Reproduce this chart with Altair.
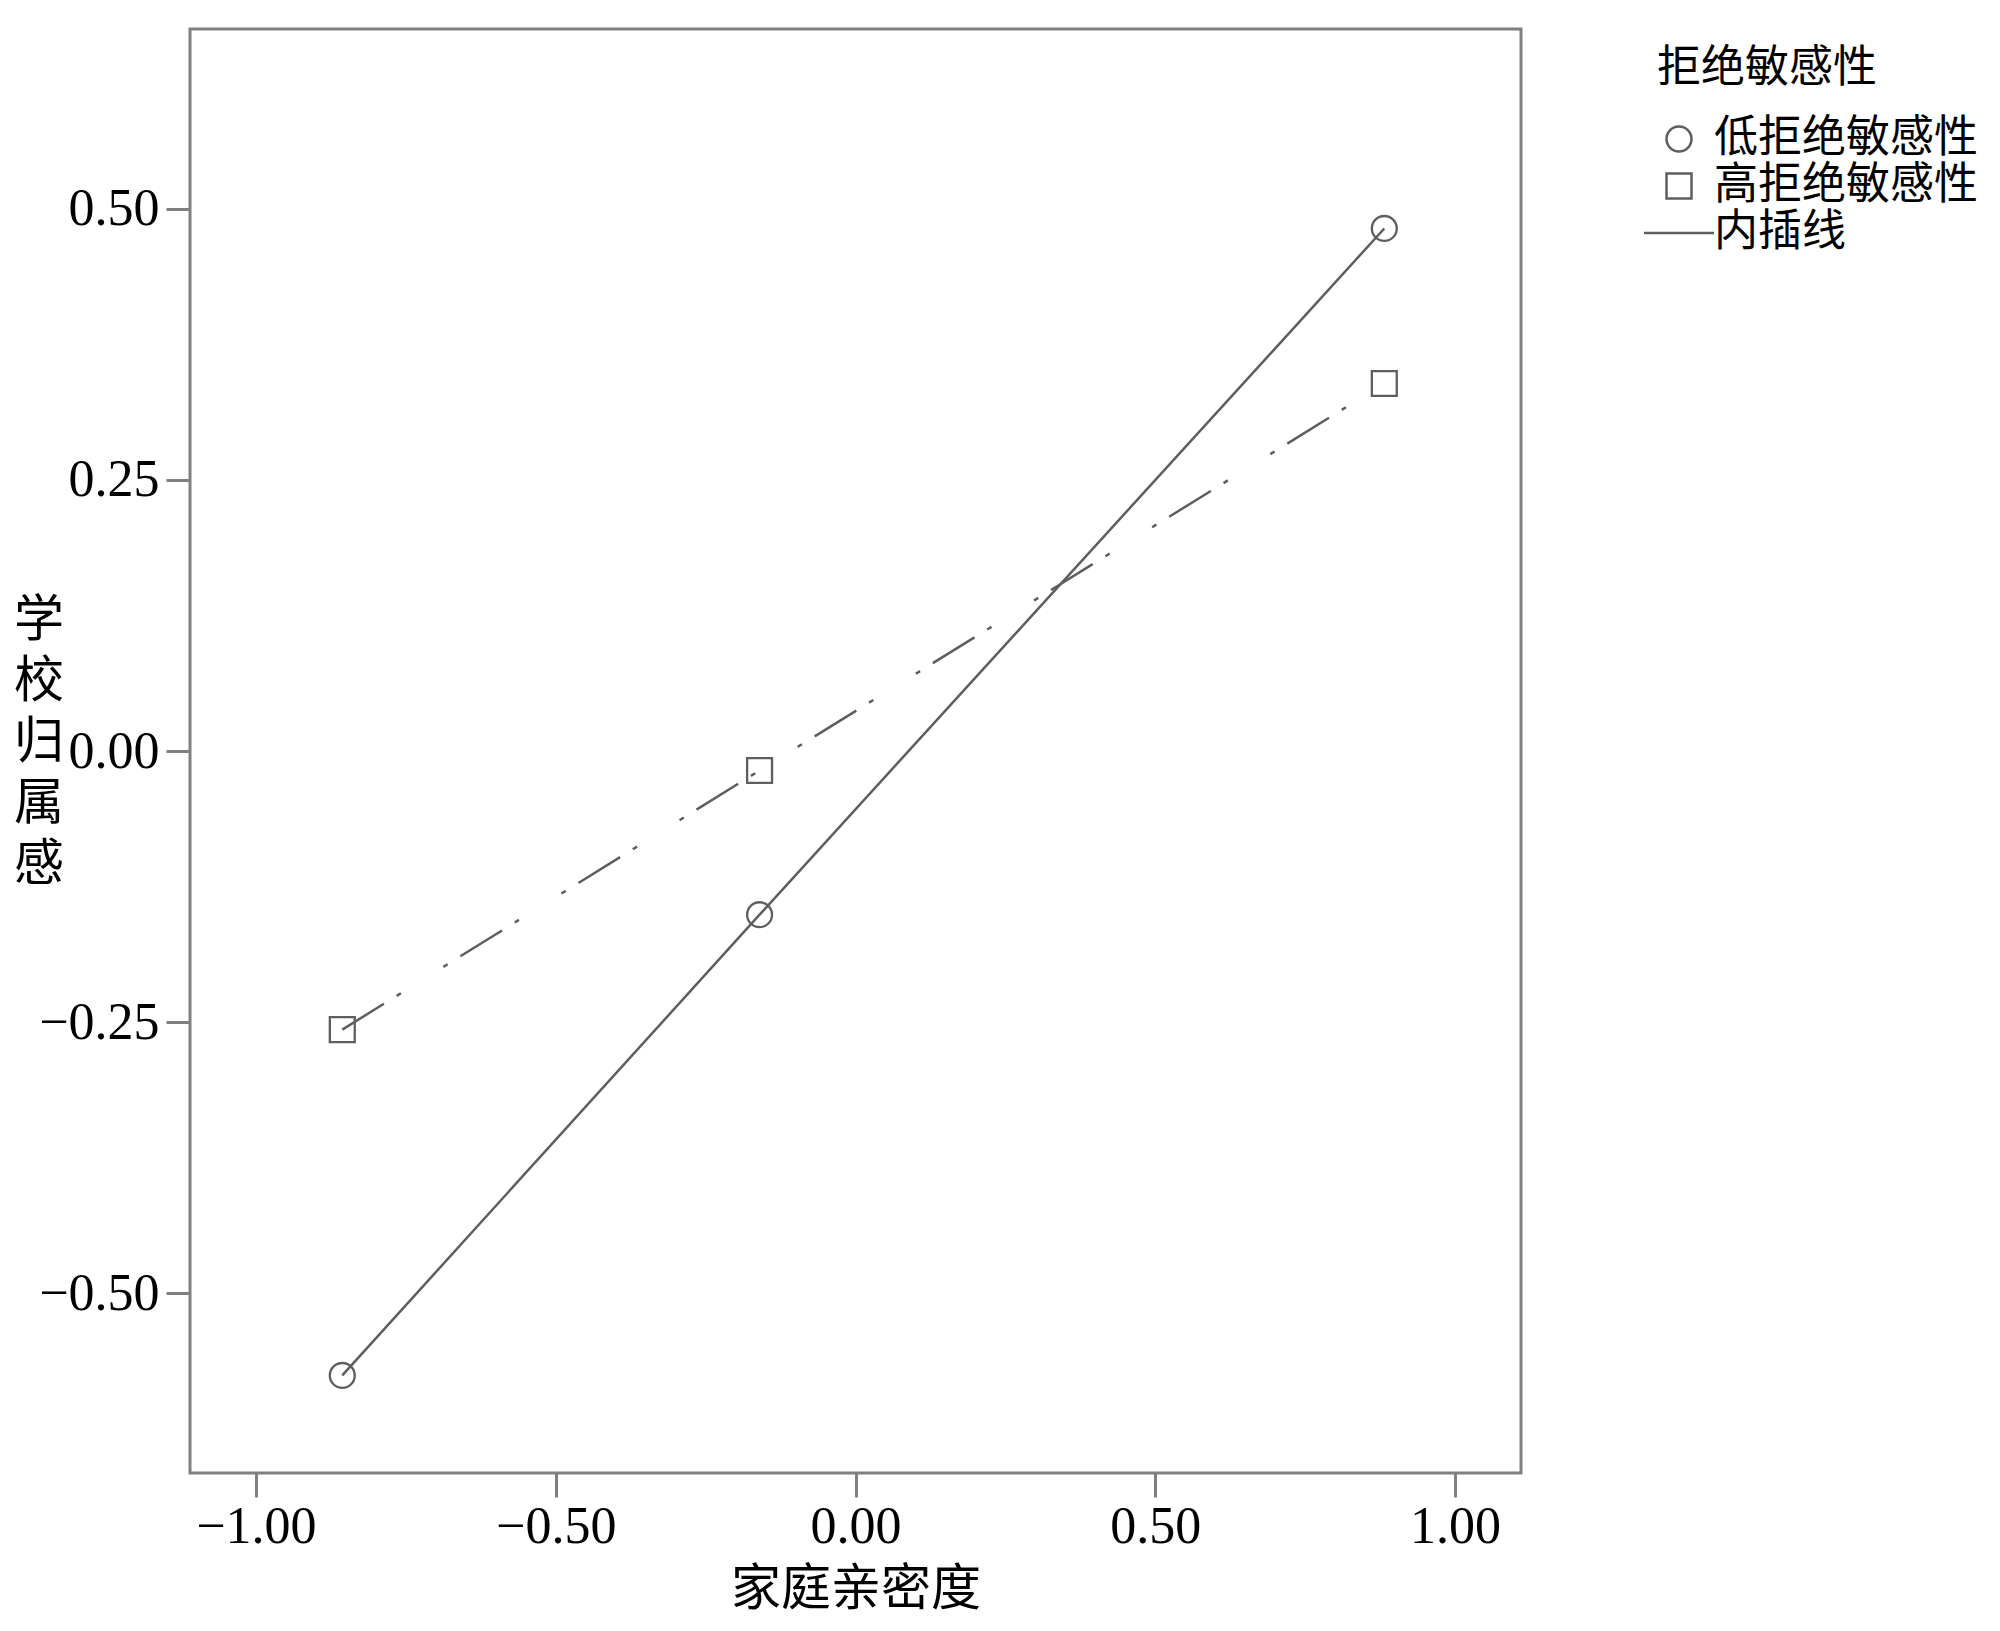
import altair as alt
import pandas as pd

# ---- data ----
x_vals = [-0.856, -0.160, 0.882]            # 家庭亲密度
low_vals = [-0.576, -0.151, 0.482]          # 低拒绝敏感性
high_vals = [-0.257, -0.018, 0.339]         # 高拒绝敏感性
groups = ["低拒绝敏感性", "高拒绝敏感性"]
legend_items = ["低拒绝敏感性", "高拒绝敏感性", "内插线"]
x_ticks = [-1.0, -0.5, 0.0, 0.5, 1.0]
y_ticks = [-0.5, -0.25, 0.0, 0.25, 0.5]

rows = []
for xv, yv in zip(x_vals, low_vals):
    rows.append({"x": xv, "y": yv, "group": groups[0]})
for xv, yv in zip(x_vals, high_vals):
    rows.append({"x": xv, "y": yv, "group": groups[1]})
df = pd.DataFrame(rows)

GRAY = "#5e5e5e"
FRAME = "#808080"
SERIF = "Liberation Serif"
CJK = "Noto Sans CJK SC"

x_enc = alt.X(
    "x:Q",
    scale=alt.Scale(domain=[-1.11, 1.11], nice=False, zero=False),
    axis=alt.Axis(
        values=x_ticks, format=".2f", title="家庭亲密度",
        titleFont=CJK, titleFontSize=50, titleFontWeight="normal", titleColor="black",
        titleBaseline="top", titleY=91,
        labelPadding=4,
    ),
)
y_enc = alt.Y(
    "y:Q",
    scale=alt.Scale(domain=[-0.666, 0.666], nice=False, zero=False),
    axis=alt.Axis(
        values=y_ticks, format=".2f", title=["学", "校", "归", "属", "感"],
        titleFont=CJK, titleFontSize=50, titleFontWeight="normal", titleColor="black",
        titleAngle=0, titleAlign="center", titleBaseline="middle",
        titleX=-151.5, titleY=591, titleLineHeight=61,
        labelPadding=7,
    ),
)

base = alt.Chart(df)

line_low = base.transform_filter(alt.datum.group == groups[0]).mark_line(
    color=GRAY, strokeWidth=2.5
).encode(x=x_enc, y=y_enc)

line_high = base.transform_filter(alt.datum.group == groups[1]).mark_line(
    color=GRAY, strokeWidth=2.5, strokeDash=[49, 15, 5, 50, 5, 15]
).encode(x=x_enc, y=y_enc)

points = base.mark_point(
    filled=False, color=GRAY, strokeWidth=2.3, size=620, opacity=1
).encode(
    x=x_enc,
    y=y_enc,
    shape=alt.Shape(
        "group:N",
        scale=alt.Scale(domain=legend_items, range=["circle", "square", "M-2.8,0H2.8"]),
        legend=alt.Legend(
            title="拒绝敏感性", orient="none", legendX=1467, legendY=18,
            titleFont=CJK, titleFontSize=44, titleFontWeight="normal", titleColor="black",
            titlePadding=26, titleLimit=1000,
            labelFont=CJK, labelFontSize=44, labelColor="black", labelOffset=13,
            labelLimit=1000,
            symbolSize=625, symbolStrokeWidth=2.5, symbolStrokeColor=GRAY,
            rowPadding=3, padding=0,
        ),
    ),
)

chart = alt.layer(line_low, line_high, points).properties(
    width=1331, height=1444,
    background="white",
    autosize=alt.AutoSizeParams(type="none"),
    padding={"left": 182, "top": 21, "right": 471, "bottom": 145},
).configure_view(
    stroke=FRAME, strokeWidth=3
).configure_axis(
    domain=False, grid=False,
    tickColor=FRAME, tickWidth=3, tickSize=24,
    labelFont=SERIF, labelFontSize=52, labelColor="black",
)

chart.save("out.html", embed_options={"renderer": "svg", "actions": False})
